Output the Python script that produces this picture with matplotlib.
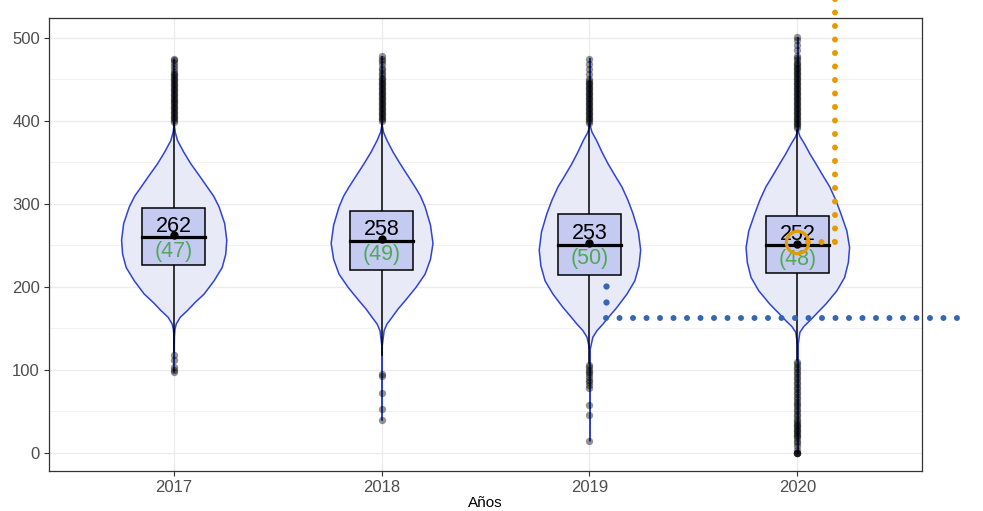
import matplotlib
matplotlib.use("Agg")
import matplotlib.pyplot as plt

plt.rcParams['font.family'] = ['Liberation Sans', 'DejaVu Sans']

years = ["2017", "2018", "2019", "2020"]

# violin outline: value levels and half widths (in category units)
violin_y = {
    "2017": [98, 140, 150, 156, 164, 172, 182, 192, 208, 224, 240, 257, 277, 297, 310, 321, 335, 349, 363, 377, 387, 395, 475],
    "2018": [40, 130, 148, 156, 164, 174, 184, 200, 216, 234, 253, 275, 297, 310, 321, 335, 349, 363, 377, 387, 395, 478],
    "2019": [15, 125, 140, 148, 156, 166, 176, 192, 208, 226, 245, 267, 289, 305, 321, 335, 349, 363, 377, 387, 395, 476],
    "2020": [0, 130, 146, 153, 160, 170, 180, 196, 212, 230, 248, 268, 289, 305, 321, 335, 349, 361, 373, 382, 389, 501],
}
violin_hw = {
    "2017": [0, .001, .004, .010, .029, .063, .101, .144, .192, .231, .248, .253, .243, .216, .190, .159, .120, .080, .046, .016, .005, .001, 0],
    "2018": [0, .001, .010, .024, .048, .077, .111, .163, .207, .233, .245, .233, .207, .185, .159, .123, .087, .053, .024, .007, .001, 0],
    "2019": [0, .001, .014, .034, .063, .096, .130, .178, .216, .236, .244, .233, .207, .183, .154, .120, .087, .058, .032, .010, .001, 0],
    "2020": [0, .001, .010, .029, .058, .096, .135, .188, .225, .243, .249, .236, .207, .183, .154, .120, .087, .058, .032, .010, .001, 0],
}

# box stats
q1 = [226.5, 220, 214.5, 216.5]
medians = [260.5, 255, 250.5, 250.5]
q3 = [295, 292, 288, 286]
whisk_lo = [122, 118, 108, 112]
whisk_hi = [397, 397, 396, 389]
means = [262, 258, 253, 252]
sds = [47, 49, 50, 48]

outliers = {
    "2017": [118, 112, 104, 100, 98,
             399, 401, 403, 405, 407, 409, 411, 413, 415, 417, 419, 421, 423, 425, 427, 429, 431,
             433, 435, 437, 439, 441, 443, 445, 447, 449, 451, 453, 455, 457, 459, 462, 466, 470, 473, 475],
    "2018": [95, 93, 72, 53, 40,
             400, 402, 404, 406, 408, 410, 412, 414, 416, 418, 420, 422, 424, 426, 428, 430, 432,
             434, 436, 438, 440, 442, 444, 446, 448, 450, 452, 455, 458, 461, 464, 468, 472, 475, 478],
    "2019": [106, 103, 100, 97, 95, 92, 88, 85, 82, 78, 58, 46, 15,
             398, 400, 402, 404, 406, 408, 410, 412, 414, 416, 418, 420, 422, 424, 426, 428, 430,
             432, 434, 436, 438, 440, 442, 444, 446, 448, 451, 456, 462, 468, 475],
    "2020": [110, 107, 104, 101, 98, 95, 92, 89, 86, 83, 80, 77, 74, 71, 68, 65, 62, 59, 56, 53,
             50, 47, 44, 41, 38, 36, 34, 32, 30, 28, 26, 24, 22, 20, 18, 15, 12, 8, 4, 0, 0, 0, 0,
             392, 394, 396, 398, 400, 402, 404, 406, 408, 410, 412, 414, 416, 418, 420, 422, 424,
             426, 428, 430, 432, 434, 436, 438, 440, 442, 444, 446, 448, 450, 452, 454, 456, 458,
             460, 462, 464, 466, 468, 470, 473, 476, 478, 485, 492, 497, 501],
}

# overlay guides (from the original screenshot)
blue_dots_x = [2.08, 2.08]
blue_dots_y = [201.6, 182]
blue_guide_x = [2.08, 3.81]
blue_guide_y = [163, 163]
orange_guide_x = [3.05, 3.18, 3.18]
orange_guide_y = [254.6, 254.6, 560]
orange_ring = (3.0, 254.6)

violin_fill = "#E8EAF7"
violin_edge = "#2E44D6"
box_fill = "#C5CAF0"
green = "#4DAA57"

fig = plt.figure(figsize=(9.83, 5.11), dpi=100)
ax = fig.add_axes([0.0498, 0.0783, 0.8882, 0.8865])

for i, yr in enumerate(years):
    vy = violin_y[yr]
    hw = violin_hw[yr]
    ax.fill_betweenx(vy, [i - w for w in hw], [i + w for w in hw],
                     facecolor=violin_fill, edgecolor=violin_edge, linewidth=1.1, zorder=2)
    # whiskers
    ax.plot([i, i], [whisk_lo[i], q1[i]], color="black", lw=1.1, zorder=3)
    ax.plot([i, i], [q3[i], whisk_hi[i]], color="black", lw=1.1, zorder=3)
    # box
    ax.add_patch(plt.Rectangle((i - 0.15, q1[i]), 0.3, q3[i] - q1[i],
                               facecolor=box_fill, edgecolor="black", lw=1.1, zorder=3))
    ax.plot([i - 0.15, i + 0.15], [medians[i], medians[i]], color="black", lw=2.3, zorder=4)
    # outliers
    ax.plot([i] * len(outliers[yr]), outliers[yr], "o", color="black", alpha=0.42,
            markersize=5.3, markeredgewidth=0, zorder=4)
    # mean
    ax.plot(i, means[i], "o", color="black", markersize=5, zorder=5)
    ax.text(i, means[i] + 11, f"{means[i]}", ha="center", va="center", fontsize=15.5,
            color="black", zorder=6)
    ax.text(i, means[i] - 19, f"({sds[i]})", ha="center", va="center", fontsize=15.5,
            color=green, zorder=6)

# overlay guides
ax.plot(blue_dots_x, blue_dots_y, "o", color="#3366B3", markersize=4.5, markeredgewidth=0,
        clip_on=False, zorder=7)
ax.plot(blue_guide_x, blue_guide_y, color="#3366B3", lw=4.3, linestyle=(0, (0.01, 2.25)),
        dash_capstyle="round", clip_on=False, zorder=7)
ax.plot(orange_guide_x, orange_guide_y, color="#E69A00", lw=4.3, linestyle=(0, (0.01, 2.25)),
        dash_capstyle="round", clip_on=False, zorder=7)
ax.plot(*orange_ring, "o", markersize=16, markerfacecolor="none", markeredgecolor="#E69A00",
        markeredgewidth=2.3, zorder=8)

ax.set_xlim(-0.6, 3.6)
ax.set_ylim(-21.7, 524)
ax.set_xticks(range(len(years)))
ax.set_xticklabels(years)
ax.set_yticks([0, 100, 200, 300, 400, 500])
ax.set_yticks([50, 150, 250, 350, 450], minor=True)
ax.grid(True, which="major", color="#EBEBEB", lw=1.0, zorder=0)
ax.grid(True, which="minor", axis="y", color="#F2F2F2", lw=0.7, zorder=0)
ax.set_axisbelow(True)
ax.tick_params(axis="both", which="major", length=3.5, width=0.8, color="#333333",
               labelsize=12, labelcolor="#4D4D4D", pad=3)
ax.tick_params(axis="both", which="minor", length=0)
for s in ax.spines.values():
    s.set_color("#333333")
    s.set_linewidth(0.9)
ax.set_xlabel("Años", fontsize=11, color="black", labelpad=1)

fig.savefig("out.png", dpi=100)
